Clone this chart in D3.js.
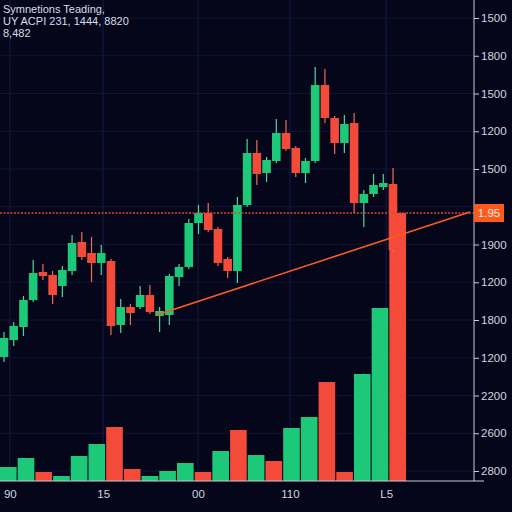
<!DOCTYPE html>
<html>
<head>
<meta charset="utf-8">
<script src="https://cdn.jsdelivr.net/npm/d3@7"></script>
<style>
  body { margin: 0; background: #05061a; }
  svg { display: block; }
</style>
</head>
<body>
<svg id="chart" width="512" height="512"></svg>
<script>
// candle data (o, h, l, c)
var opens  = [123, 140, 153, 180, 208, 205, 194, 209, 238, 227, 217, 219, 155, 173, 173, 185, 164, 165, 203, 213, 257, 267, 251, 221, 209, 275, 327, 307, 319, 347, 332, 307, 319, 395, 362, 337, 357, 277, 286, 293, 296];
var highs  = [148, 158, 184, 220, 216, 209, 214, 245, 248, 243, 235, 221, 181, 176, 194, 195, 173, 206, 216, 261, 275, 277, 253, 223, 283, 341, 340, 323, 361, 360, 334, 322, 413, 411, 364, 365, 367, 290, 306, 306, 312];
var lows   = [118, 134, 144, 178, 200, 176, 183, 205, 220, 198, 205, 145, 147, 155, 171, 166, 148, 155, 194, 211, 246, 248, 214, 202, 197, 273, 295, 298, 317, 329, 303, 297, 317, 357, 326, 327, 267, 253, 283, 290, 228];
var closes = [142, 154, 180, 207, 204, 185, 210, 237, 223, 217, 227, 154, 173, 167, 185, 168, 169, 204, 213, 257, 267, 250, 217, 209, 275, 327, 306, 320, 347, 331, 307, 319, 395, 362, 337, 356, 277, 286, 295, 297, 230];

// volume bars
var volumes = [14, 23, 9, 5, 25, 37, 54, 12, 5, 10, 18, 9, 30, 51, 26, 20, 53, 64, 99, 9, 107, 173, 268];
var volumeUp = [1, 1, 0, 1, 1, 1, 0, 0, 1, 1, 1, 0, 1, 0, 1, 0, 1, 1, 0, 0, 1, 1, 0];

// axis labels
var priceTickLabels = ["1500", "1800", "1500", "1200", "1500", "", "1900", "1200", "1800", "1200", "2200", "2600", "2800"];
var timeTickLabels = ["90", "15", "00", "110", "L5"];
var timeTickIndex = [0.6, 10.2, 19.95, 29.4, 39.3];

var titleLines = ["Symnetions Teading,", "UY ACPI 231, 1444, 8820", "8,482"];

var lastPrice = 267;
var lastPriceLabel = "1.95";
var trendStart = { i: 15.7, p: 165 };
var trendEnd = { i: 47.9, p: 268 };

var green = "#1ec879", red = "#f44a3a", grid = "#10143a", axisColor = "#c9cad6";

var svg = d3.select("#chart");
var width = 512, height = 512;
var axisX = 474, axisY = 481;

svg.append("rect").attr("width", width).attr("height", height).attr("fill", "#05061a");

var x = d3.scaleLinear().domain([0, opens.length - 1]).range([4, 393]);
var y = d3.scaleLinear().domain([0, 480]).range([480, 0]);
var yTicks = d3.scalePoint().domain(d3.range(priceTickLabels.length)).range([18, 471]);
var xVol = d3.scaleBand().domain(d3.range(volumes.length)).range([0, 406]).paddingInner(0.06);
var yVol = d3.scaleLinear().domain([0, 268]).range([axisY, 213]);

// grid
svg.append("g")
  .selectAll("line")
  .data(d3.range(priceTickLabels.length))
  .enter()
  .append("line")
  .attr("x1", 0)
  .attr("x2", axisX)
  .attr("y1", function(d) { return yTicks(d); })
  .attr("y2", function(d) { return yTicks(d); })
  .attr("stroke", grid)
  .attr("stroke-width", 1);

svg.append("g")
  .selectAll("line")
  .data(timeTickIndex)
  .enter()
  .append("line")
  .attr("x1", function(d) { return x(d); })
  .attr("x2", function(d) { return x(d); })
  .attr("y1", 0)
  .attr("y2", axisY)
  .attr("stroke", grid)
  .attr("stroke-width", 1.5);

// volume
svg.append("g")
  .selectAll("rect")
  .data(volumes)
  .enter()
  .append("rect")
  .attr("x", function(d, i) { return xVol(i); })
  .attr("width", xVol.bandwidth())
  .attr("y", function(d) { return yVol(d); })
  .attr("height", function(d) { return axisY - yVol(d); })
  .attr("fill", function(d, i) { return volumeUp[i] ? green : red; });

// candles
var candles = svg.append("g")
  .selectAll("g")
  .data(opens)
  .enter()
  .append("g");

candles.append("line")
  .attr("x1", function(d, i) { return x(i); })
  .attr("x2", function(d, i) { return x(i); })
  .attr("y1", function(d, i) { return y(highs[i]); })
  .attr("y2", function(d, i) { return y(lows[i]); })
  .attr("stroke", function(d, i) { return closes[i] >= d ? "#4fd69a" : "#f06a5c"; })
  .attr("stroke-width", 1.2);

candles.append("rect")
  .attr("x", function(d, i) { return x(i) - 4.3; })
  .attr("width", 8.6)
  .attr("y", function(d, i) { return y(Math.max(d, closes[i])); })
  .attr("height", function(d, i) { return Math.max(1.5, Math.abs(y(d) - y(closes[i]))); })
  .attr("fill", function(d, i) { return closes[i] >= d ? green : red; });

// last price level
svg.append("line")
  .attr("x1", 0)
  .attr("x2", axisX)
  .attr("y1", y(lastPrice))
  .attr("y2", y(lastPrice))
  .attr("stroke", "#d8473a")
  .attr("stroke-width", 1.3)
  .attr("stroke-dasharray", "2,1.5");

// trend line
svg.append("line")
  .attr("x1", x(trendStart.i))
  .attr("y1", y(trendStart.p))
  .attr("x2", x(trendEnd.i))
  .attr("y2", y(trendEnd.p))
  .attr("stroke", "#ff5a22")
  .attr("stroke-width", 1.6);

// axes
var rightAxis = svg.append("g")
  .attr("transform", "translate(" + axisX + ",0)")
  .call(d3.axisRight(yTicks)
    .tickValues(d3.range(priceTickLabels.length).filter(function(d) { return priceTickLabels[d] !== ""; }))
    .tickFormat(function(d) { return priceTickLabels[d]; })
    .tickSize(5)
    .tickPadding(2));
rightAxis.select(".domain").attr("d", "M0,0V" + axisY).attr("stroke", axisColor);
rightAxis.selectAll(".tick line").attr("stroke", axisColor);
rightAxis.selectAll(".tick text")
  .attr("fill", "#d4d5de")
  .style("font-family", "Liberation Sans, Arial, sans-serif")
  .style("font-size", "11.5px");

var bottomAxis = svg.append("g")
  .attr("transform", "translate(0," + axisY + ")")
  .call(d3.axisBottom(x)
    .tickValues(timeTickIndex)
    .tickFormat(function(d, i) { return timeTickLabels[i]; })
    .tickSize(0)
    .tickPadding(9));
bottomAxis.select(".domain").attr("d", "M0,0H484").attr("stroke", axisColor).attr("stroke-width", 1.2);
bottomAxis.selectAll(".tick text")
  .attr("fill", "#d4d5de")
  .style("font-family", "Liberation Sans, Arial, sans-serif")
  .style("font-size", "11.5px");

// price tag
var tag = svg.append("g").attr("transform", "translate(" + axisX + "," + y(lastPrice) + ")");
tag.append("rect")
  .attr("x", 0)
  .attr("y", -9)
  .attr("width", 30)
  .attr("height", 18)
  .attr("fill", "#ff5a1e");
tag.append("text")
  .attr("x", 15)
  .attr("y", 4)
  .attr("text-anchor", "middle")
  .attr("fill", "#ffe9e0")
  .style("font-family", "Liberation Sans, Arial, sans-serif")
  .style("font-size", "11.5px")
  .text(lastPriceLabel);

// title
svg.append("g")
  .selectAll("text")
  .data(titleLines)
  .enter()
  .append("text")
  .attr("x", 3)
  .attr("y", function(d, i) { return 13 + i * 11.8; })
  .attr("fill", "#dcdce6")
  .style("font-family", "Liberation Sans, Arial, sans-serif")
  .style("font-size", "11px")
  .text(function(d) { return d; });
</script>
</body>
</html>
